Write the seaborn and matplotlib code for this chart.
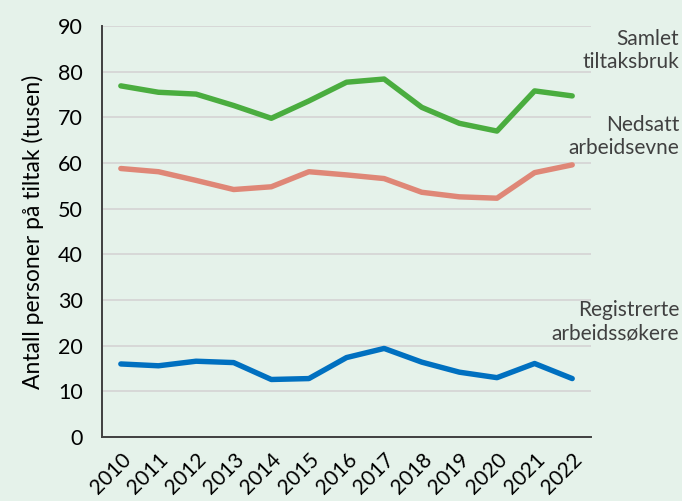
import matplotlib
matplotlib.use("Agg")
import matplotlib.pyplot as plt
import seaborn as sns
import pandas as pd

years = ["2010", "2011", "2012", "2013", "2014", "2015", "2016",
         "2017", "2018", "2019", "2020", "2021", "2022"]
samlet = [76.9, 75.5, 75.1, 72.6, 69.8, 73.6, 77.7, 78.4, 72.2, 68.7, 67.0, 75.8, 74.7]
nedsatt = [58.8, 58.1, 56.2, 54.2, 54.8, 58.1, 57.4, 56.6, 53.6, 52.6, 52.3, 57.9, 59.6]
registrerte = [16.0, 15.6, 16.6, 16.3, 12.6, 12.8, 17.4, 19.4, 16.4, 14.2, 13.0, 16.1, 12.8]

series_names = ["Samlet\ntiltaksbruk", "Nedsatt\narbeidsevne", "Registrerte\narbeidssøkere"]
series_values = [samlet, nedsatt, registrerte]
colors = ["#4aad3f", "#df8777", "#0070c0"]

rows = []
for name, vals in zip(series_names, series_values):
    for i, v in enumerate(vals):
        rows.append({"idx": i, "year": years[i], "value": v, "series": name})
df = pd.DataFrame(rows)

bg = "#e5f2ea"
sns.set_theme(style="white")
plt.rcParams["font.family"] = ["Lato", "DejaVu Sans"]

fig = plt.figure(figsize=(6.82, 5.01), dpi=100, facecolor=bg)
ax = fig.add_axes([0.1496, 0.1277, 0.717, 0.8203])
ax.set_facecolor(bg)

sns.lineplot(data=df, x="idx", y="value", hue="series", palette=colors,
             linewidth=3.9, legend=False, ax=ax, solid_capstyle="round",
             solid_joinstyle="round")

ax.set_xlim(-0.5, 12.5)
ax.set_ylim(0, 90)
ax.set_yticks(range(0, 91, 10))
ax.set_xticks(range(len(years)))
ax.set_xticklabels(years, rotation=45, ha="right", va="top",
                   rotation_mode="anchor", fontsize=15, color="#000000")
ax.tick_params(axis="x", pad=9, length=0)
ax.tick_params(axis="y", labelsize=15.5, colors="#000000", length=0, pad=14)
ax.yaxis.grid(True, color="#d6d6d6", linewidth=1.3)
ax.set_axisbelow(True)
ax.set_xlabel("")
ax.set_ylabel("Antall personer på tiltak (tusen)", fontsize=16.5, color="#000000", labelpad=10)

for side in ["top", "right"]:
    ax.spines[side].set_visible(False)
for side in ["left", "bottom"]:
    ax.spines[side].set_color("#404040")
    ax.spines[side].set_linewidth(1.4)

label_y = [84.7, 65.9, 25.2]
for name, yv in zip(series_names, label_y):
    ax.annotate(name, xy=(1.0, yv), xycoords=("figure fraction", "data"),
                xytext=(-2, 0), textcoords="offset points",
                ha="right", va="center", fontsize=15, color="#404040",
                linespacing=1.2)

fig.savefig("out.png", dpi=100, facecolor=bg)
